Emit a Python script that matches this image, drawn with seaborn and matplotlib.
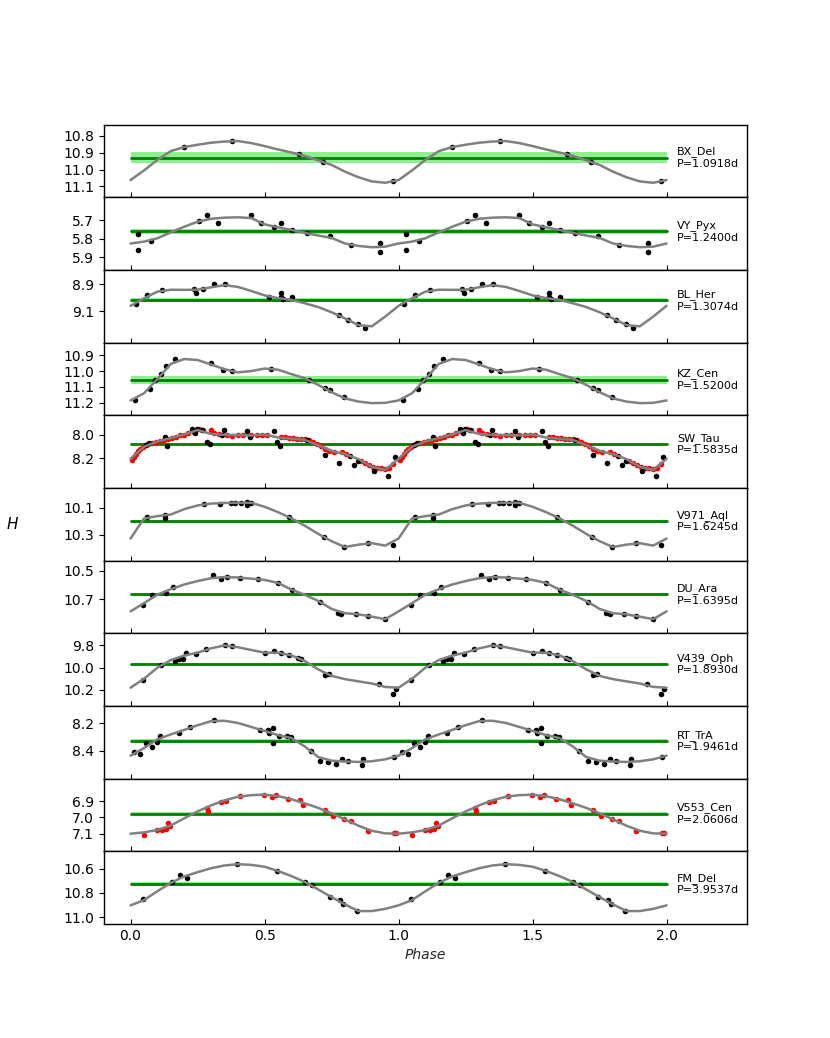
"""
Phased H-band light curves for eleven Cepheids, stacked panels sharing the phase axis.
"""

import matplotlib
matplotlib.use("Agg")
import matplotlib.pyplot as plt
import matplotlib.ticker as ticker
import numpy as np
import pandas as pd
import seaborn as sns

STARS = ["BX_Del", "VY_Pyx", "BL_Her", "KZ_Cen", "SW_Tau", "V971_Aql",
         "DU_Ara", "V439_Oph", "RT_TrA", "V553_Cen", "FM_Del"]
PERIODS = ["1.0918", "1.2400", "1.3074", "1.5200", "1.5835", "1.6245",
           "1.6395", "1.8930", "1.9461", "2.0606", "3.9537"]
MEAN_MAG = [10.928, 5.760, 9.019, 11.054, 8.079, 10.200, 10.667, 9.967, 8.327, 6.977, 10.727]
MEAN_ERR = [0.033, 0.015, 0.016, 0.025, 0.006, 0.010, 0.010, 0.005, 0.015, 0.010, 0.020]
YLIMS = [(11.164, 10.732), (5.967, 5.576), (9.332, 8.794), (11.278, 10.820),
         (8.450, 7.837), (10.495, 9.950), (10.938, 10.429), (10.343, 9.690),
         (8.602, 8.071), (7.207, 6.762), (11.055, 10.457)]
YTICKS = [[10.8, 10.9, 11.0, 11.1], [5.7, 5.8, 5.9], [8.9, 9.1], [10.9, 11.0, 11.1, 11.2],
          [8.0, 8.2], [10.1, 10.3], [10.5, 10.7], [9.8, 10.0, 10.2], [8.2, 8.4],
          [6.9, 7.0, 7.1], [10.6, 10.8, 11.0]]

# fit curves sampled every 0.05 in phase, 0.00 .. 1.00
FIT_PHASE = np.round(np.arange(21) * 0.05, 2)
FITS = {
    "BX_Del": [11.062, 11.005, 10.942, 10.890, 10.866, 10.852, 10.840, 10.833, 10.830, 10.842, 10.860,
               10.880, 10.898, 10.918, 10.945, 10.972, 11.012, 11.045, 11.070, 11.078, 11.062],
    "VY_Pyx": [5.825, 5.815, 5.797, 5.765, 5.735, 5.708, 5.692, 5.686, 5.684, 5.688, 5.722,
               5.738, 5.752, 5.768, 5.782, 5.795, 5.825, 5.838, 5.845, 5.842, 5.825],
    "BL_Her": [9.060, 9.005, 8.955, 8.941, 8.942, 8.941, 8.923, 8.907, 8.920, 8.950, 8.983,
               9.003, 9.016, 9.041, 9.069, 9.108, 9.153, 9.203, 9.212, 9.140, 9.060],
    "KZ_Cen": [11.185, 11.140, 11.050, 10.955, 10.924, 10.930, 10.958, 10.988, 11.008, 11.000, 10.984,
               10.991, 11.019, 11.045, 11.087, 11.133, 11.172, 11.192, 11.202, 11.200, 11.185],
    "SW_Tau": [8.205, 8.104, 8.058, 8.030, 8.000, 7.962, 7.995, 8.003, 8.005, 8.008, 8.000,
               8.025, 8.035, 8.045, 8.090, 8.138, 8.165, 8.207, 8.272, 8.298, 8.205],
    "V971_Aql": [10.330, 10.180, 10.162, 10.150, 10.110, 10.082, 10.068, 10.063, 10.062, 10.062, 10.092,
                 10.132, 10.178, 10.234, 10.295, 10.350, 10.394, 10.376, 10.365, 10.383, 10.330],
    "DU_Ara": [10.785, 10.728, 10.668, 10.630, 10.597, 10.573, 10.553, 10.545, 10.548, 10.556, 10.565,
               10.586, 10.632, 10.669, 10.712, 10.768, 10.798, 10.806, 10.822, 10.840, 10.785],
    "V439_Oph": [10.180, 10.100, 10.000, 9.932, 9.891, 9.865, 9.827, 9.800, 9.816, 9.841, 9.865,
                 9.866, 9.889, 9.941, 10.015, 10.074, 10.103, 10.123, 10.142, 10.173, 10.180],
    "RT_TrA": [8.435, 8.380, 8.316, 8.280, 8.247, 8.213, 8.183, 8.180, 8.196, 8.225, 8.254,
               8.285, 8.306, 8.368, 8.445, 8.472, 8.478, 8.481, 8.476, 8.462, 8.435],
    "V553_Cen": [7.100, 7.092, 7.077, 7.050, 7.006, 6.964, 6.927, 6.896, 6.874, 6.864, 6.861,
                 6.870, 6.889, 6.914, 6.942, 6.975, 7.012, 7.051, 7.082, 7.098, 7.100],
    "FM_Del": [10.903, 10.860, 10.787, 10.718, 10.665, 10.630, 10.598, 10.575, 10.564, 10.570, 10.585,
               10.620, 10.662, 10.710, 10.772, 10.835, 10.895, 10.950, 10.950, 10.932, 10.903],
}

# observed points (black), phase 0..1
BX_DEL_PH = [0.199, 0.380, 0.629, 0.717, 0.978]
BX_DEL_MAG = [10.868, 10.830, 10.910, 10.954, 11.066]
VY_PYX_PH = [0.027, 0.027, 0.077, 0.257, 0.287, 0.326, 0.451, 0.487, 0.536, 0.563, 0.603,
             0.660, 0.745, 0.822, 0.932, 0.932]
VY_PYX_MAG = [5.773, 5.860, 5.809, 5.704, 5.674, 5.716, 5.674, 5.715, 5.736, 5.716, 5.755,
              5.767, 5.785, 5.835, 5.824, 5.873]
BL_HER_PH = [0.022, 0.062, 0.119, 0.235, 0.244, 0.272, 0.312, 0.351, 0.517, 0.561, 0.563,
             0.568, 0.604, 0.779, 0.810, 0.847, 0.875]
BL_HER_MAG = [9.043, 8.981, 8.944, 8.932, 8.967, 8.932, 8.895, 8.902, 8.994, 8.967, 8.994,
              9.006, 8.994, 9.125, 9.167, 9.196, 9.228]
KZ_CEN_PH = [0.017, 0.074, 0.093, 0.112, 0.132, 0.164, 0.299, 0.345, 0.380, 0.523, 0.667,
             0.725, 0.745, 0.795]
KZ_CEN_MAG = [11.181, 11.111, 11.058, 11.018, 10.968, 10.921, 10.949, 10.991, 11.001, 10.987,
              11.054, 11.107, 11.119, 11.166]
SW_TAU_PH = [0.058, 0.070, 0.127, 0.137, 0.230, 0.240, 0.248, 0.265, 0.284, 0.296, 0.340,
             0.348, 0.434, 0.446, 0.536, 0.546, 0.557, 0.657, 0.727, 0.779, 0.817, 0.835,
             0.850, 0.907, 0.959, 0.988]
SW_TAU_MAG = [8.085, 8.075, 8.025, 8.100, 7.955, 7.990, 7.955, 7.962, 8.065, 8.080, 8.003,
              7.958, 7.970, 8.017, 7.968, 8.060, 8.100, 8.045, 8.172, 8.240, 8.178, 8.255,
              8.220, 8.310, 8.346, 8.192]
V971_AQL_PH = [0.062, 0.130, 0.130, 0.274, 0.334, 0.374, 0.389, 0.411, 0.436, 0.436, 0.451,
               0.592, 0.720, 0.795, 0.887, 0.980]
V971_AQL_MAG = [10.170, 10.153, 10.175, 10.070, 10.070, 10.062, 10.062, 10.065, 10.055, 10.075,
                10.060, 10.170, 10.320, 10.390, 10.363, 10.378]
DU_ARA_PH = [0.047, 0.081, 0.132, 0.158, 0.309, 0.336, 0.359, 0.409, 0.474, 0.551, 0.604,
             0.708, 0.773, 0.787, 0.841, 0.887, 0.949]
DU_ARA_MAG = [10.742, 10.671, 10.655, 10.615, 10.530, 10.561, 10.544, 10.549, 10.561, 10.589,
              10.636, 10.719, 10.796, 10.806, 10.801, 10.818, 10.836]
V439_OPH_PH = [0.045, 0.115, 0.164, 0.182, 0.197, 0.206, 0.244, 0.283, 0.351, 0.380, 0.501,
               0.536, 0.563, 0.591, 0.623, 0.636, 0.727, 0.741, 0.928, 0.978, 0.990]
V439_OPH_MAG = [10.110, 9.979, 9.943, 9.919, 9.919, 9.872, 9.881, 9.836, 9.800, 9.806, 9.866,
                9.854, 9.866, 9.890, 9.913, 9.925, 10.063, 10.057, 10.149, 10.233, 10.188]
RT_TRA_PH = [0.012, 0.034, 0.059, 0.081, 0.100, 0.110, 0.181, 0.222, 0.312, 0.483, 0.513,
             0.517, 0.532, 0.533, 0.554, 0.583, 0.598, 0.673, 0.707, 0.735, 0.767, 0.788,
             0.810, 0.863, 0.868, 0.982]
RT_TRA_MAG = [8.408, 8.425, 8.346, 8.371, 8.335, 8.293, 8.266, 8.225, 8.171, 8.249, 8.244,
              8.270, 8.234, 8.346, 8.288, 8.288, 8.298, 8.400, 8.473, 8.481, 8.493, 8.463,
              8.473, 8.500, 8.463, 8.444]
FM_DEL_PH = [0.047, 0.155, 0.186, 0.210, 0.397, 0.547, 0.650, 0.676, 0.745, 0.783, 0.791, 0.845]
FM_DEL_MAG = [10.853, 10.710, 10.655, 10.674, 10.564, 10.619, 10.710, 10.738, 10.834, 10.856,
              10.889, 10.950]

# second data set (red)
SW_TAU_RED_PH = [0.005, 0.012, 0.020, 0.028, 0.036, 0.045, 0.055, 0.065, 0.080, 0.095, 0.110,
                 0.125, 0.140, 0.155, 0.170, 0.185, 0.200, 0.215, 0.235, 0.255, 0.270, 0.300,
                 0.312, 0.330, 0.360, 0.380, 0.400, 0.420, 0.450, 0.470, 0.490, 0.510, 0.560,
                 0.575, 0.590, 0.605, 0.620, 0.635, 0.650, 0.665, 0.680, 0.695, 0.710, 0.725,
                 0.740, 0.760, 0.790, 0.805, 0.860, 0.875, 0.890, 0.905, 0.920, 0.935, 0.950,
                 0.965, 0.980]
SW_TAU_RED_MAG = [8.215, 8.190, 8.165, 8.140, 8.120, 8.105, 8.090, 8.082, 8.070, 8.062, 8.055,
                  8.045, 8.040, 8.030, 8.018, 8.008, 8.000, 7.990, 7.975, 7.950, 7.960, 7.962,
                  7.985, 7.995, 8.000, 8.010, 8.005, 8.008, 8.000, 8.005, 8.002, 8.005, 8.020,
                  8.025, 8.028, 8.030, 8.035, 8.038, 8.042, 8.045, 8.060, 8.080, 8.100, 8.120,
                  8.140, 8.150, 8.150, 8.165, 8.225, 8.240, 8.255, 8.270, 8.280, 8.285, 8.290,
                  8.280, 8.250]
V553_CEN_RED_PH = [0.050, 0.100, 0.118, 0.131, 0.141, 0.147, 0.284, 0.290, 0.336, 0.355, 0.407,
                   0.498, 0.526, 0.542, 0.586, 0.632, 0.644, 0.725, 0.754, 0.795, 0.822, 0.887,
                   0.982, 0.990]
V553_CEN_RED_MAG = [7.110, 7.079, 7.075, 7.071, 7.035, 7.055, 6.940, 6.961, 6.906, 6.902, 6.869,
                    6.861, 6.875, 6.865, 6.886, 6.896, 6.922, 6.953, 6.992, 7.008, 7.024, 7.084,
                    7.096, 7.096]

BLACK = {
    "BX_Del": (BX_DEL_PH, BX_DEL_MAG), "VY_Pyx": (VY_PYX_PH, VY_PYX_MAG),
    "BL_Her": (BL_HER_PH, BL_HER_MAG), "KZ_Cen": (KZ_CEN_PH, KZ_CEN_MAG),
    "SW_Tau": (SW_TAU_PH, SW_TAU_MAG), "V971_Aql": (V971_AQL_PH, V971_AQL_MAG),
    "DU_Ara": (DU_ARA_PH, DU_ARA_MAG), "V439_Oph": (V439_OPH_PH, V439_OPH_MAG),
    "RT_TrA": (RT_TRA_PH, RT_TRA_MAG), "FM_Del": (FM_DEL_PH, FM_DEL_MAG),
}
RED = {
    "SW_Tau": (SW_TAU_RED_PH, SW_TAU_RED_MAG),
    "V553_Cen": (V553_CEN_RED_PH, V553_CEN_RED_MAG),
}


def two_cycles(phase, mag):
    phase = np.asarray(phase, dtype=float)
    mag = np.asarray(mag, dtype=float)
    return pd.DataFrame({"phase": np.concatenate([phase, phase + 1]),
                         "mag": np.concatenate([mag, mag])})


sns.set_style("ticks", {"axes.edgecolor": "black", "xtick.color": "black",
                        "ytick.color": "black", "text.color": "black"})
plt.rcParams["font.family"] = ["DejaVu Sans"]
plt.rcParams["axes.linewidth"] = 1.0
plt.rcParams["xtick.major.size"] = 3.5
plt.rcParams["ytick.major.size"] = 3.5

fig, axes = plt.subplots(len(STARS), 1, sharex=True, figsize=(8.3, 10.38), dpi=100)
fig.subplots_adjust(left=0.125, right=0.9, top=0.88, bottom=0.11, hspace=0)

for i, (ax, star) in enumerate(zip(axes, STARS)):
    mean, err = MEAN_MAG[i], MEAN_ERR[i]
    ax.fill_between([0, 2], mean - err, mean + err, color="lightgreen", lw=0, zorder=1)
    ax.plot([0, 2], [mean, mean], color="green", lw=2, zorder=1.5)

    if star in RED:
        sns.scatterplot(data=two_cycles(*RED[star]), x="phase", y="mag", color="red",
                        s=16, linewidth=0, ax=ax, zorder=2)
    if star in BLACK:
        sns.scatterplot(data=two_cycles(*BLACK[star]), x="phase", y="mag", color="black",
                        s=16, linewidth=0, ax=ax, zorder=2)

    fit = np.asarray(FITS[star])
    fit_x = np.concatenate([FIT_PHASE, FIT_PHASE[1:] + 1])
    fit_y = np.concatenate([fit, fit[1:]])
    sns.lineplot(x=fit_x, y=fit_y, color="gray", linewidth=1.8, sort=False,
                 estimator=None, ax=ax, zorder=3)

    ax.text(2.04, mean, f"{star}\nP={PERIODS[i]}d", fontsize=8, va="center", ha="left")

    ax.set_ylim(*YLIMS[i])
    ax.set_yticks(YTICKS[i])
    ax.yaxis.set_major_formatter(ticker.FormatStrFormatter("%.1f"))
    ax.tick_params(axis="x", direction="in", bottom=True, top=False)
    ax.tick_params(axis="y", direction="out", labelsize=10)
    ax.set_xlabel("")
    ax.set_ylabel("")

axes[-1].set_xlim(-0.1, 2.3)
axes[-1].set_xticks([0.0, 0.5, 1.0, 1.5, 2.0])
axes[-1].xaxis.set_major_formatter(ticker.FormatStrFormatter("%.1f"))
axes[-1].tick_params(axis="x", labelsize=10)
axes[-1].set_xlabel("Phase", fontsize=10, style="italic")
fig.text(0.015, 0.495, "H", fontsize=11, style="italic", ha="center", va="center")

fig.savefig("out.png", dpi=100)
